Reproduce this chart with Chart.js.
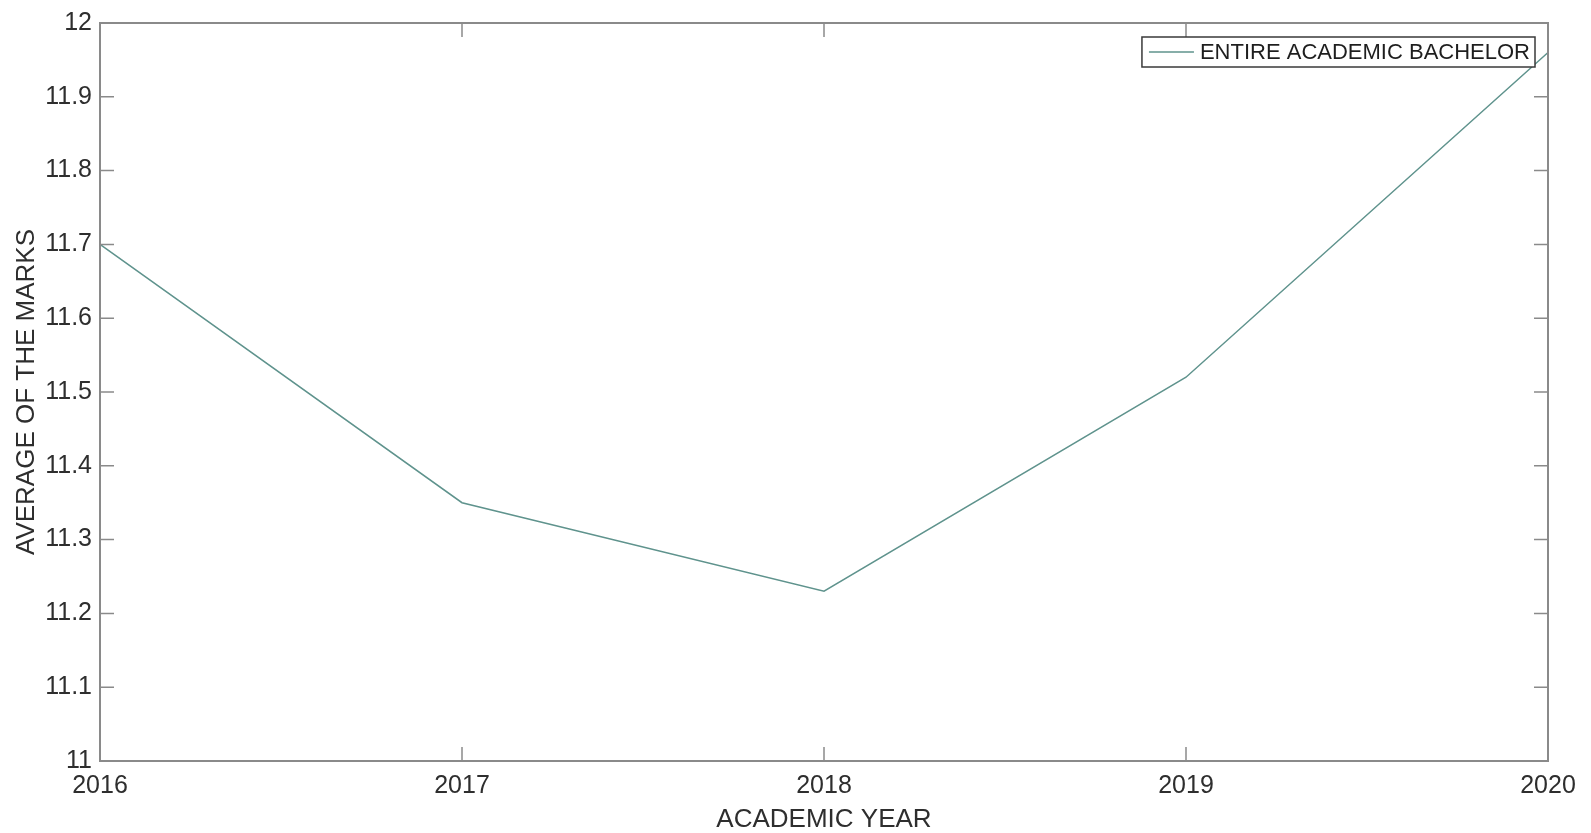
<!DOCTYPE html>
<html>
<head>
<meta charset="utf-8">
<script src="https://cdn.jsdelivr.net/npm/chart.js@4/dist/chart.umd.min.js"></script>
<style>
  html, body { margin: 0; padding: 0; background: #ffffff; }
  #wrap { width: 1591px; height: 833px; }
  canvas { display: block; }
</style>
</head>
<body>
<div id="wrap"><canvas id="chart" width="1591" height="833"></canvas></div>
<script>
// Average mark per academic year, whole bachelor programme
const years = ['2016', '2017', '2018', '2019', '2020'];
const averageMarks = [11.70, 11.35, 11.23, 11.52, 11.96];
const seriesName = 'ENTIRE ACADEMIC BACHELOR';
const yTickValues = [11, 11.1, 11.2, 11.3, 11.4, 11.5, 11.6, 11.7, 11.8, 11.9, 12];
const xAxisTitle = 'ACADEMIC YEAR';
const yAxisTitle = 'AVERAGE OF THE MARKS';

const AXIS_COLOR = '#8a8a8a';
const TEXT_COLOR = '#2e2e2e';
const LINE_COLOR = '#5f938d';
const TICK_FONT = { family: '"Liberation Sans", Arial, sans-serif', size: 25 };
const TITLE_FONT = { family: '"Liberation Sans", Arial, sans-serif', size: 26, lineHeight: 1 };

// Boxed axes with inward ticks on all four sides, plus a framed legend in the top-right corner
const boxedAxes = {
  id: 'boxedAxes',
  afterDatasetsDraw(chart) {
    const { ctx, chartArea: a, scales } = chart;
    const tickLen = 14;
    ctx.save();
    ctx.strokeStyle = AXIS_COLOR;
    ctx.lineWidth = 2;
    ctx.strokeRect(a.left, a.top, a.right - a.left, a.bottom - a.top);
    ctx.lineWidth = 1.5;
    ctx.beginPath();
    scales.y.ticks.forEach(t => {
      const y = scales.y.getPixelForValue(t.value);
      ctx.moveTo(a.left, y); ctx.lineTo(a.left + tickLen, y);
      ctx.moveTo(a.right, y); ctx.lineTo(a.right - tickLen, y);
    });
    scales.x.ticks.forEach((t, i) => {
      const x = scales.x.getPixelForTick(i);
      ctx.moveTo(x, a.bottom); ctx.lineTo(x, a.bottom - tickLen);
      ctx.moveTo(x, a.top); ctx.lineTo(x, a.top + tickLen);
    });
    ctx.stroke();

    // legend
    const ds = chart.data.datasets[0];
    const boxRight = a.right - 13, boxTop = a.top + 14, boxH = 30;
    ctx.font = '22px "Liberation Sans", Arial, sans-serif';
    const textW = ctx.measureText(ds.label).width;
    const boxW = 7 + 45 + 6 + textW + 5;
    const boxLeft = boxRight - boxW;
    ctx.fillStyle = '#ffffff';
    ctx.fillRect(boxLeft, boxTop, boxW, boxH);
    ctx.strokeStyle = '#3a3a3a';
    ctx.lineWidth = 1.5;
    ctx.strokeRect(boxLeft, boxTop, boxW, boxH);
    const midY = boxTop + boxH / 2;
    ctx.strokeStyle = ds.borderColor;
    ctx.lineWidth = ds.borderWidth;
    ctx.beginPath();
    ctx.moveTo(boxLeft + 7, midY); ctx.lineTo(boxLeft + 52, midY);
    ctx.stroke();
    ctx.fillStyle = '#1e1e1e';
    ctx.textBaseline = 'middle';
    ctx.textAlign = 'left';
    ctx.fillText(ds.label, boxLeft + 58, midY + 1);
    ctx.restore();
  }
};

new Chart(document.getElementById('chart'), {
  type: 'line',
  data: {
    labels: years,
    datasets: [{
      label: seriesName,
      data: averageMarks,
      borderColor: LINE_COLOR,
      borderWidth: 1.5,
      pointRadius: 0,
      tension: 0,
      fill: false
    }]
  },
  options: {
    responsive: false,
    animation: false,
    devicePixelRatio: 1,
    layout: { padding: { top: 18, right: 43, left: 0, bottom: 0 } },
    plugins: { legend: { display: false }, tooltip: { enabled: false } },
    scales: {
      x: {
        type: 'category',
        offset: false,
        grid: { display: false, drawTicks: false },
        border: { display: false },
        ticks: { color: TEXT_COLOR, font: TICK_FONT, padding: 10, maxRotation: 0, autoSkip: false },
        title: { display: true, text: xAxisTitle, color: TEXT_COLOR, font: TITLE_FONT, padding: { top: 0, bottom: 0 } },
        afterFit(s) { s.height = 72; }
      },
      y: {
        min: 11,
        max: 12,
        grid: { display: false, drawTicks: false },
        border: { display: false },
        afterBuildTicks(s) { s.ticks = yTickValues.map(v => ({ value: v })); },
        ticks: { color: TEXT_COLOR, font: TICK_FONT, padding: 8, callback: v => String(v) },
        title: { display: true, text: yAxisTitle, color: TEXT_COLOR, font: TITLE_FONT, padding: { top: 14, bottom: 0 } },
        afterFit(s) { s.width = 100; }
      }
    }
  },
  plugins: [boxedAxes]
});
</script>
</body>
</html>
